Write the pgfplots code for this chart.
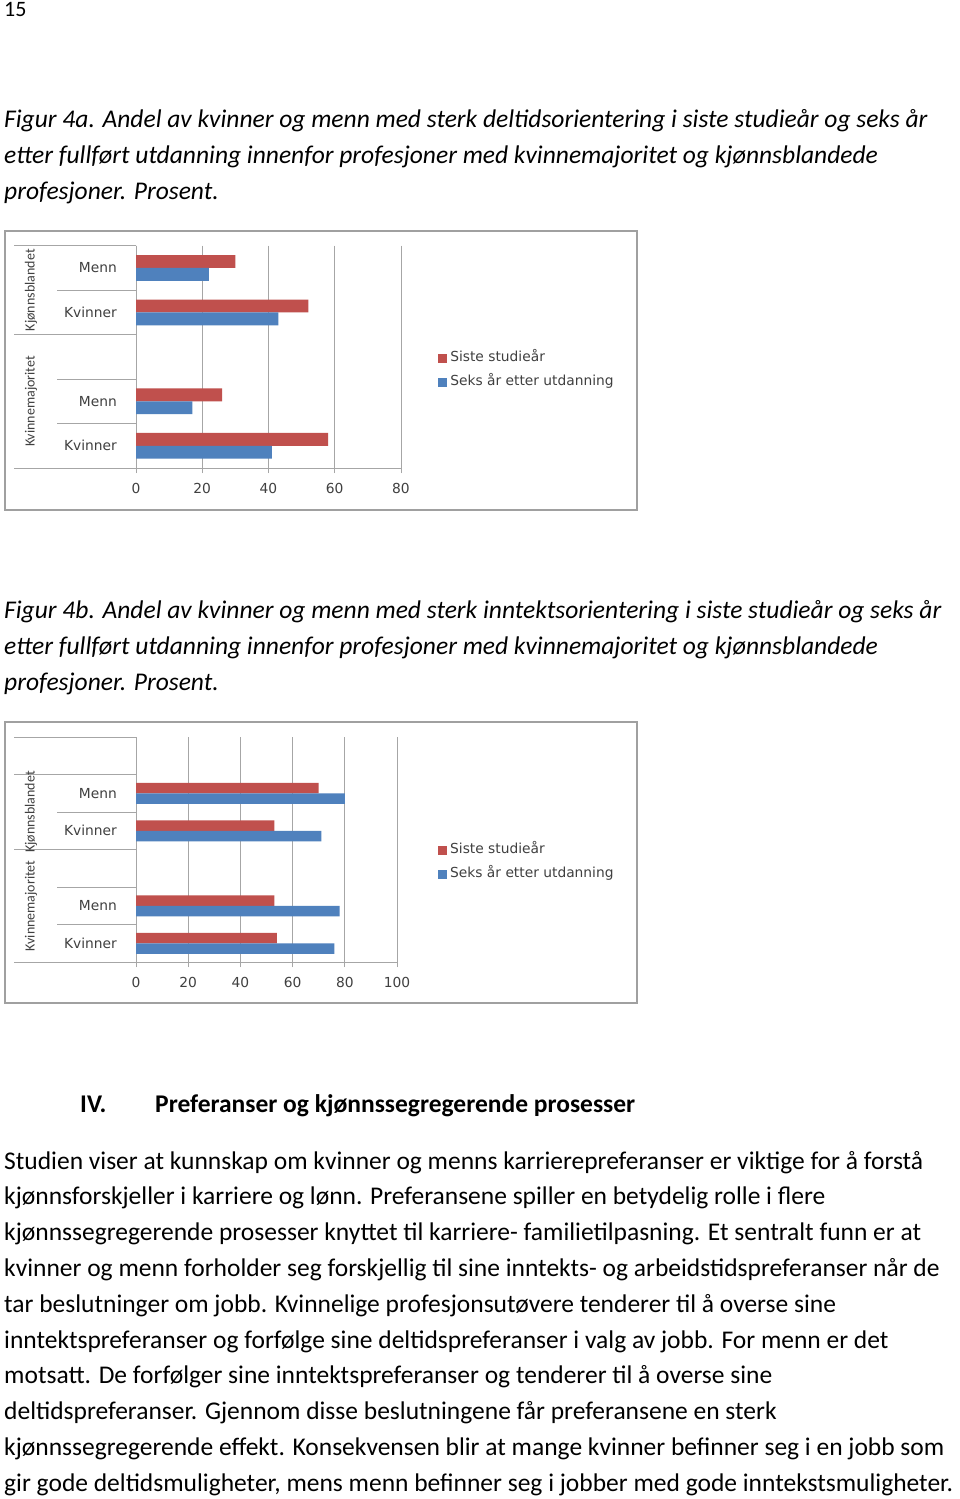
\documentclass[border=0pt]{standalone}
\usepackage{pgfplots}
\pgfplotsset{compat=1.18}
\usepackage{fontspec}
\setmainfont{Carlito}
\newfontfamily\chartfont{DejaVu Sans}
\definecolor{barred}{HTML}{C0504D}
\definecolor{barblue}{HTML}{4F81BD}
\definecolor{gridgray}{HTML}{A6A6A6}
\definecolor{framegray}{HTML}{A0A0A0}
\definecolor{charttext}{HTML}{404040}
\newcommand{\body}{\fontsize{25.5bp}{30bp}\selectfont}
\newcommand{\chtext}{\chartfont\fontsize{13.8bp}{16bp}\selectfont}
\pgfplotsset{
  chartstyle/.style={
    scale only axis, clip=false,
    y dir=reverse,
    xbar,
    axis x line*=bottom, axis y line*=left,
    axis line style={gridgray, line width=0.8bp},
    xmajorgrids, grid style={gridgray, line width=0.8bp},
    major tick length=5bp, tick align=outside,
    xtick style={gridgray, line width=0.8bp},
    ytick style={draw=none},
    /pgf/number format/assume math mode=true,
    tick label style={font=\chtext, text=charttext},
    xticklabel style={yshift=-7bp},
    yticklabel style={inner sep=0pt, xshift=-14bp},
    legend style={draw=none, fill=none, font=\chtext, text=charttext,
      legend cell align=left, row sep=11bp, inner sep=0pt,
      nodes={inner ysep=0pt, inner xsep=3bp, text height=10bp, text depth=3bp}},
    legend image code/.code={\fill[##1, draw=none] (0bp,-4.5bp) rectangle (9bp,4.5bp);},
  },
}
\begin{document}
\begin{tikzpicture}
\useasboundingbox (0bp,0bp) rectangle (960bp,-1499bp);
\fill[white] (0bp,0bp) rectangle (960bp,-1499bp);

\begin{scope}[x=1bp,y=1bp]
% page number
\node[anchor=base west, inner sep=0pt] at (4,-16) {\fontsize{22bp}{26bp}\selectfont 15};

% caption 4a
\node[anchor=base west, inner sep=0pt] at (4,-127) {\body\itshape Figur 4a. Andel av kvinner og menn med sterk deltidsorientering i siste studieår og seks år};
\node[anchor=base west, inner sep=0pt] at (4,-163) {\body\itshape etter fullført utdanning innenfor profesjoner med kvinnemajoritet og kjønnsblandede};
\node[anchor=base west, inner sep=0pt] at (4,-199) {\body\itshape profesjoner. Prosent.};

% frame 4a
\draw[framegray, line width=1.2bp] (5,-231) rectangle (637,-510);

% caption 4b
\node[anchor=base west, inner sep=0pt] at (4,-618) {\body\itshape Figur 4b. Andel av kvinner og menn med sterk inntektsorientering i siste studieår og seks år};
\node[anchor=base west, inner sep=0pt] at (4,-654) {\body\itshape etter fullført utdanning innenfor profesjoner med kvinnemajoritet og kjønnsblandede};
\node[anchor=base west, inner sep=0pt] at (4,-690) {\body\itshape profesjoner. Prosent.};

% frame 4b
\draw[framegray, line width=1.2bp] (5,-722) rectangle (637,-1003);

% heading
\node[anchor=base west, inner sep=0pt] at (80,-1112) {\body\bfseries IV.};
\node[anchor=base west, inner sep=0pt] at (155,-1112) {\body\bfseries Preferanser og kjønnssegregerende prosesser};

% body text
\foreach \t [count=\i from 0] in {
 {Studien viser at kunnskap om kvinner og menns karrierepreferanser er viktige for å forstå},
 {kjønnsforskjeller i karriere og lønn. Preferansene spiller en betydelig rolle i flere},
 {kjønnssegregerende prosesser knyttet til karriere- familietilpasning. Et sentralt funn er at},
 {kvinner og menn forholder seg forskjellig til sine inntekts- og arbeidstidspreferanser når de},
 {tar beslutninger om jobb. Kvinnelige profesjonsutøvere tenderer til å overse sine},
 {inntektspreferanser og forfølge sine deltidspreferanser i valg av jobb. For menn er det},
 {motsatt. De forfølger sine inntektspreferanser og tenderer til å overse sine},
 {deltidspreferanser. Gjennom disse beslutningene får preferansene en sterk},
 {kjønnssegregerende effekt. Konsekvensen blir at mange kvinner befinner seg i en jobb som},
 {gir gode deltidsmuligheter, mens menn befinner seg i jobber med gode inntekstsmuligheter.}}
 {\node[anchor=base west, inner sep=0pt] at (4,{-1169-35.8*\i}) {\body \t};}
\end{scope}

\begin{axis}[chartstyle,
  at={(136bp,-468bp)}, anchor=south west,
  width=265bp, height=222.3bp,
  xmin=0, xmax=80, ymin=0.5, ymax=5.5,
  xtick={0,20,40,60,80},
  ytick={1,2,4,5}, yticklabels={Menn,Kvinner,Menn,Kvinner},
  bar width=0.29,
  legend style={at={(1.14,0.44)}, anchor=west},
]
\addplot[fill=barred, draw=none, bar shift=-0.145] coordinates {(30,1) (52,2) (26,4) (58,5)};
\addplot[fill=barblue, draw=none, bar shift=0.145] coordinates {(22,1) (43,2) (17,4) (41,5)};
\legend{Siste studieår, Seks år etter utdanning}
% category separators
\draw[gridgray, line width=0.8bp] (axis cs:0,0.5) -- ++(-122bp,0bp);
\draw[gridgray, line width=0.8bp] (axis cs:0,1.5) -- ++(-79bp,0bp);
\draw[gridgray, line width=0.8bp] (axis cs:0,2.5) -- ++(-122bp,0bp);
\draw[gridgray, line width=0.8bp] (axis cs:0,3.5) -- ++(-79bp,0bp);
\draw[gridgray, line width=0.8bp] (axis cs:0,4.5) -- ++(-79bp,0bp);
\draw[gridgray, line width=0.8bp] (axis cs:0,5.5) -- ++(-122bp,0bp);
\node[rotate=90, text=charttext, font=\fontsize{14bp}{16bp}\selectfont, inner sep=0pt] at ([xshift=-105bp]axis cs:0,1.5) {Kjønnsblandet};
\node[rotate=90, text=charttext, font=\fontsize{14bp}{16bp}\selectfont, inner sep=0pt] at ([xshift=-105bp]axis cs:0,4) {Kvinnemajoritet};
\end{axis}

\begin{axis}[chartstyle,
  at={(136bp,-962bp)}, anchor=south west,
  width=261bp, height=225bp,
  xmin=0, xmax=100, ymin=0.5, ymax=6.5,
  xtick={0,20,40,60,80,100},
  ytick={2,3,5,6}, yticklabels={Menn,Kvinner,Menn,Kvinner},
  bar width=0.28,
  legend style={at={(1.157,0.444)}, anchor=west},
]
\addplot[fill=barred, draw=none, bar shift=-0.14] coordinates {(70,2) (53,3) (53,5) (54,6)};
\addplot[fill=barblue, draw=none, bar shift=0.14] coordinates {(80,2) (71,3) (78,5) (76,6)};
\legend{Siste studieår, Seks år etter utdanning}
\draw[gridgray, line width=0.8bp] (axis cs:0,0.5) -- ++(-122bp,0bp);
\draw[gridgray, line width=0.8bp] (axis cs:0,1.5) -- ++(-122bp,0bp);
\draw[gridgray, line width=0.8bp] (axis cs:0,2.5) -- ++(-79bp,0bp);
\draw[gridgray, line width=0.8bp] (axis cs:0,3.5) -- ++(-122bp,0bp);
\draw[gridgray, line width=0.8bp] (axis cs:0,4.5) -- ++(-79bp,0bp);
\draw[gridgray, line width=0.8bp] (axis cs:0,5.5) -- ++(-79bp,0bp);
\draw[gridgray, line width=0.8bp] (axis cs:0,6.5) -- ++(-122bp,0bp);
\node[rotate=90, text=charttext, font=\fontsize{14bp}{16bp}\selectfont, inner sep=0pt] at ([xshift=-105bp]axis cs:0,2.5) {Kjønnsblandet};
\node[rotate=90, text=charttext, font=\fontsize{14bp}{16bp}\selectfont, inner sep=0pt] at ([xshift=-105bp]axis cs:0,5) {Kvinnemajoritet};
\end{axis}
\end{tikzpicture}
\end{document}
